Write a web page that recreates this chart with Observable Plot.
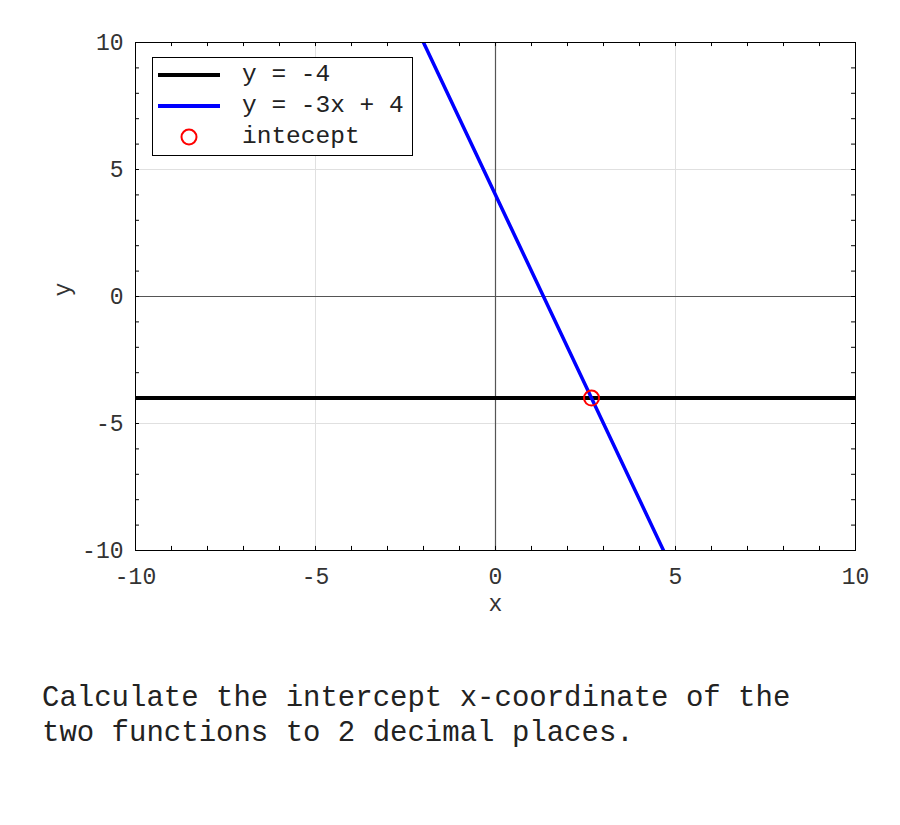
<!DOCTYPE html>
<html>
<head>
<meta charset="utf-8">
<script src="https://cdn.jsdelivr.net/npm/d3@7"></script>
<script src="https://cdn.jsdelivr.net/npm/@observablehq/plot@0.6"></script>
<style>
  body { margin: 0; background: #fff; }
  #wrap { position: relative; width: 900px; height: 825px; font-family: "Liberation Mono", monospace; }
  #legend { position: absolute; left: 152px; top: 57px; width: 259px; height: 97px; border: 1px solid #000; background: #fff; }
  #legend svg { position: absolute; left: 0; top: 0; }
  #legend .lbl { position: absolute; left: 89px; font-size: 24.5px; line-height: 24px; color: #222; white-space: pre; }
  #caption { position: absolute; left: 42px; top: 681px; font-size: 29px; line-height: 35px; color: #222; white-space: pre; }
</style>
</head>
<body>
<div id="wrap">
  <div id="chart"></div>
  <div id="legend"></div>
  <div id="caption">Calculate the intercept x-coordinate of the
two functions to 2 decimal places.</div>
</div>
<script>
// Data
const xTicks = [-10, -5, 0, 5, 10];
const yTicks = [-10, -5, 0, 5, 10];
const minorTicks = [-9, -8, -7, -6, -4, -3, -2, -1, 1, 2, 3, 4, 6, 7, 8, 9];
const gridVals = [-5, 5];
const line1X = [-10, 10];
const line1Y = [-4, -4];
const line2X = [-2, 4.667];
const line2Y = [10, -10];
const interX = [2.667];
const interY = [-4];
const legendLabels = ["y = -4", "y = -3x + 4", "intecept"];
const legendColors = ["#000000", "#0000ff", "#ff0000"];

const line1 = line1X.map((x, i) => ({x, y: line1Y[i]}));
const line2 = line2X.map((x, i) => ({x, y: line2Y[i]}));
const inter = interX.map((x, i) => ({x, y: interY[i]}));
const allTicks = [...xTicks, ...minorTicks];
const tickLenX = 0.11;  // data units along x (~4px)
const tickLenY = 0.16;  // data units along y (~4px)
const fmt = d => String(d);

const chart = Plot.plot({
  width: 900,
  height: 640,
  marginLeft: 135,
  marginRight: 45,
  marginTop: 42,
  marginBottom: 90,
  style: { fontFamily: "Liberation Mono, monospace", background: "#fff" },
  x: { domain: [-10, 10] },
  y: { domain: [-10, 10] },
  marks: [
    Plot.ruleX(gridVals, { stroke: "#e0e0e0", strokeWidth: 1 }),
    Plot.ruleY(gridVals, { stroke: "#e0e0e0", strokeWidth: 1 }),
    Plot.ruleX([0], { stroke: "#555", strokeWidth: 1.2 }),
    Plot.ruleY([0], { stroke: "#555", strokeWidth: 1.2 }),
    // inward ticks on all four sides
    Plot.ruleX(allTicks, { x: d => d, y1: -10, y2: -10 + tickLenY, stroke: "#000" }),
    Plot.ruleX(allTicks, { x: d => d, y1: 10, y2: 10 - tickLenY, stroke: "#000" }),
    Plot.ruleY(allTicks, { y: d => d, x1: -10, x2: -10 + tickLenX, stroke: "#000" }),
    Plot.ruleY(allTicks, { y: d => d, x1: 10, x2: 10 - tickLenX, stroke: "#000" }),
    Plot.line(line1, { x: "x", y: "y", stroke: legendColors[0], strokeWidth: 4, clip: true }),
    Plot.line(line2, { x: "x", y: "y", stroke: legendColors[1], strokeWidth: 3.5, clip: true }),
    Plot.dot(inter, { x: "x", y: "y", r: 7.5, stroke: legendColors[2], strokeWidth: 2, fill: "none" }),
    Plot.frame({ stroke: "#000", strokeWidth: 1 }),
    Plot.axisX(xTicks, { tickSize: 0, tickPadding: 17, fontSize: 23, fill: "#333", label: null, tickFormat: fmt }),
    Plot.axisY(yTicks, { tickSize: 0, tickPadding: 12, fontSize: 23, fill: "#333", label: null, tickFormat: fmt }),
    Plot.text(["x"], { frameAnchor: "bottom", dy: 60, fontSize: 23, fill: "#333" }),
    Plot.text(["y"], { frameAnchor: "left", dx: -73, rotate: -90, fontSize: 23, fill: "#333" })
  ]
});
document.getElementById("chart").appendChild(chart);

// Legend
const legend = document.getElementById("legend");
const rowY = [17, 48, 79];
const ns = "http://www.w3.org/2000/svg";
const svg = document.createElementNS(ns, "svg");
svg.setAttribute("width", 259);
svg.setAttribute("height", 97);
legendLabels.forEach((lab, i) => {
  if (i < 2) {
    const l = document.createElementNS(ns, "line");
    l.setAttribute("x1", 5); l.setAttribute("x2", 67);
    l.setAttribute("y1", rowY[i]); l.setAttribute("y2", rowY[i]);
    l.setAttribute("stroke", legendColors[i]);
    l.setAttribute("stroke-width", 4);
    svg.appendChild(l);
  } else {
    const c = document.createElementNS(ns, "circle");
    c.setAttribute("cx", 36); c.setAttribute("cy", rowY[i]); c.setAttribute("r", 7.5);
    c.setAttribute("fill", "none"); c.setAttribute("stroke", legendColors[i]); c.setAttribute("stroke-width", 2);
    svg.appendChild(c);
  }
  const t = document.createElement("div");
  t.className = "lbl";
  t.style.top = (rowY[i] - 12) + "px";
  t.textContent = lab;
  legend.appendChild(t);
});
legend.appendChild(svg);
</script>
</body>
</html>
